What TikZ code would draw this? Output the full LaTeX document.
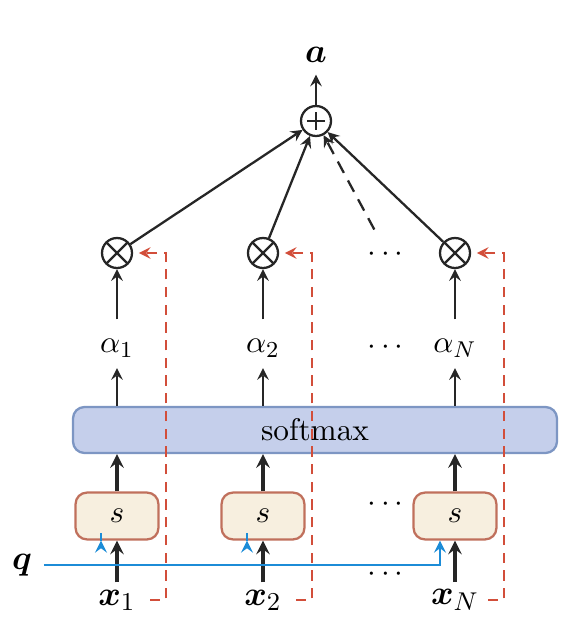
\documentclass[tikz,border=0pt,11pt]{standalone}
\usepackage{amsmath}
\usepackage{bm}
\usepackage{tikz}
\usetikzlibrary{calc,arrows}

\definecolor{smfill}{RGB}{197,207,235}
\definecolor{smdraw}{RGB}{125,150,195}
\definecolor{sfill}{RGB}{247,239,223}
\definecolor{sdraw}{RGB}{192,112,92}
\definecolor{redline}{RGB}{210,78,58}
\definecolor{blueline}{RGB}{28,140,215}
\definecolor{ink}{RGB}{38,38,38}

\tikzset{
  arr/.style={-stealth,ink,line width=0.8pt},
  bigarr/.style={-stealth,ink,line width=1.1pt},
  redarr/.style={-stealth,redline,line width=0.8pt,dash pattern=on 3.6pt off 2.6pt},
  bluearr/.style={-stealth,blueline,line width=0.85pt},
  opnode/.style={circle,draw=ink,line width=0.8pt,minimum size=10.5pt,inner sep=0pt},
  oplus/.style={opnode,path picture={
      \draw[ink,line width=0.8pt] ([yshift=3pt]path picture bounding box.center) -- ([yshift=-3pt]path picture bounding box.center)
        ([xshift=-3pt]path picture bounding box.center) -- ([xshift=3pt]path picture bounding box.center);}},
  otimes/.style={opnode,path picture={
      \draw[ink,line width=0.8pt] (path picture bounding box.north west) -- (path picture bounding box.south east)
        (path picture bounding box.north east) -- (path picture bounding box.south west);}},
  sbox/.style={draw=sdraw,fill=sfill,line width=0.8pt,rounded corners=4pt,minimum width=29pt,minimum height=16.4pt,inner sep=0pt},
  bigtxt/.style={font=\fontsize{12.5}{15}\selectfont,inner sep=1pt}
}

\begin{document}
\begin{tikzpicture}[x=0.35pt,y=-0.35pt]
\useasboundingbox (0,0) rectangle (576,630);
% top
\node[bigtxt] (a) at (316,55) {$\bm{a}$};
\node[oplus] (plus) at (316,121) {};
\draw[arr,shorten >=3pt] (plus) -- (a);
% weighting nodes
\node[otimes] (m1) at (117,253) {};
\node[otimes] (m2) at (263,253) {};
\node[otimes] (mN) at (455,253) {};
\node (d1) at (388,255) {$\cdots$};
\draw[arr] (m1) -- (plus);
\draw[arr] (m2) -- (plus);
\draw[arr] (mN) -- (plus);
\draw[arr,dash pattern=on 4.5pt off 3pt,shorten <=3pt] (d1) -- (plus);
% attention weights
\node (al1) at (117,348) {$\alpha_1$};
\node (al2) at (263,348) {$\alpha_2$};
\node (alN) at (455,348) {$\alpha_N$};
\node (d2) at (388,348) {$\cdots$};
\draw[arr,shorten <=3pt] (al1) -- (m1);
\draw[arr,shorten <=3pt] (al2) -- (m2);
\draw[arr,shorten <=3pt] (alN) -- (mN);
% softmax
\node[draw=smdraw,fill=smfill,line width=0.8pt,rounded corners=4pt,minimum width=169.4pt,minimum height=16.1pt] (sm) at (315,430) {softmax};
\draw[arr] (sm.north -| al1) -- (al1);
\draw[arr] (sm.north -| al2) -- (al2);
\draw[arr] (sm.north -| alN) -- (alN);
% scoring
\node[sbox] (s1) at (117,516) {$s$};
\node[sbox] (s2) at (263,516) {$s$};
\node[sbox] (sN) at (455,516) {$s$};
\node (d3) at (388,505) {$\cdots$};
\draw[bigarr] (s1) -- (s1 |- sm.south);
\draw[bigarr] (s2) -- (s2 |- sm.south);
\draw[bigarr] (sN) -- (sN |- sm.south);
% inputs
\node[bigtxt] (x1) at (117,600) {$\bm{x}_1$};
\node[bigtxt] (x2) at (263,600) {$\bm{x}_2$};
\node[bigtxt] (xN) at (455,600) {$\bm{x}_N$};
\node (d4) at (388,575) {$\cdots$};
\draw[bigarr] ($(s1 |- x1.north)+(0,-4)$) -- (s1);
\draw[bigarr] ($(s2 |- x2.north)+(0,-4)$) -- (s2);
\draw[bigarr] ($(sN |- xN.north)+(0,-4)$) -- (sN);
% query
\node[bigtxt] (q) at (22,565) {$\bm{q}$};
\draw[bluearr,shorten <=3pt] (q.east) -| ($(sN.south)+(-15,0)$);
\draw[bluearr] ($(s1.south)+(-16,0)$ |- q) -- ($(s1.south)+(-16,0)$);
\draw[bluearr] ($(s2.south)+(-16,0)$ |- q) -- ($(s2.south)+(-16,0)$);
% values
\coordinate (r1) at (150,600);
\coordinate (r2) at (296,600);
\coordinate (rN) at (488,600);
\draw[redarr,shorten >=2pt] (r1) -- ++(16,0) |- (m1.east);
\draw[redarr,shorten >=2pt] (r2) -- ++(16,0) |- (m2.east);
\draw[redarr,shorten >=2pt] (rN) -- ++(16,0) |- (mN.east);
\end{tikzpicture}
\end{document}
